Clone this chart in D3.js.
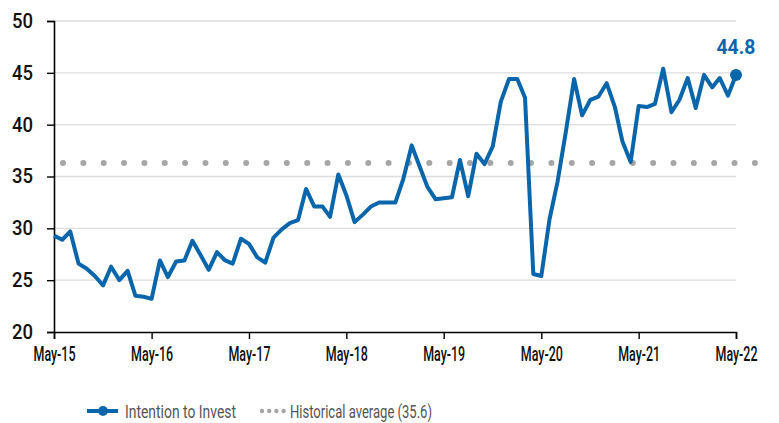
<!DOCTYPE html>
<html>
<head>
<meta charset="utf-8">
<script src="https://cdn.jsdelivr.net/npm/d3@7"></script>
<style>
  body { margin: 0; background: #fff; }
  svg text { font-family: Roboto, "Open Sans", sans-serif; }
</style>
</head>
<body>
<svg id="chart" width="779" height="423"></svg>
<script>
// monthly readings, May-15 .. May-22
var startMonth = new Date(2015, 4, 1);
var intention = [
  29.3, 28.9, 29.7, 26.6, 26.1, 25.4, 24.5, 26.3, 25.0, 25.9, 23.5, 23.4,
  23.2, 26.9, 25.3, 26.8, 26.9, 28.8, 27.4, 26.0, 27.7, 26.9, 26.6, 29.0,
  28.5, 27.2, 26.7, 29.1, 29.9, 30.5, 30.8, 33.8, 32.1, 32.1, 31.1, 35.2,
  33.2, 30.6, 31.3, 32.1, 32.5, 32.5, 32.5, 34.8, 38.0, 35.9, 34.0, 32.8,
  32.9, 33.0, 36.6, 33.1, 37.2, 36.2, 37.9, 42.2, 44.4, 44.4, 42.6, 25.6,
  25.4, 30.9, 34.5, 39.3, 44.4, 40.9, 42.4, 42.7, 44.0, 41.7, 38.4, 36.4,
  41.8, 41.7, 42.0, 45.4, 41.2, 42.4, 44.5, 41.6, 44.8, 43.6, 44.5, 42.8,
  44.8
];
var historicalLevel = 36.3;   // where the dotted line sits in the picture
var historicalLabel = "Historical average (35.6)";
var yTicks = [20, 25, 30, 35, 40, 45, 50];
var xTickLabels = ["May-15", "May-16", "May-17", "May-18", "May-19", "May-20", "May-21", "May-22"];

var blue = "#0a66ab";

// squeeze text to the narrow width of the original condensed face
function squeeze(sel, w) {
    sel.attr("textLength", w).attr("lengthAdjust", "spacingAndGlyphs");
}

var svg = d3.select("#chart"),
    margin = {top: 21, right: 43, bottom: 91, left: 54},
    width = +svg.attr("width") - margin.left - margin.right,
    height = +svg.attr("height") - margin.top - margin.bottom,
    g = svg.append("g").attr("transform", "translate(" + margin.left + "," + margin.top + ")");

var data = intention.map(function(v, i) {
    return {date: d3.timeMonth.offset(startMonth, i), value: v};
});

var x = d3.scaleTime()
    .domain(d3.extent(data, function(d) { return d.date; }))
    .range([0, width]);

var y = d3.scaleLinear()
    .domain([20, 50])
    .range([height, 0]);

// gridlines
g.append("g")
    .selectAll("line")
    .data(yTicks.slice(1))
    .enter().append("line")
    .attr("x1", 0)
    .attr("x2", width)
    .attr("y1", function(d) { return y(d); })
    .attr("y2", function(d) { return y(d); })
    .attr("stroke", "#dcdcdc")
    .attr("stroke-width", 1.3);

// historical average, dotted
g.append("line")
    .attr("x1", 9)
    .attr("x2", width + 20)
    .attr("y1", y(historicalLevel))
    .attr("y2", y(historicalLevel))
    .attr("stroke", "#a6a6a6")
    .attr("stroke-width", 6)
    .attr("stroke-linecap", "round")
    .attr("stroke-dasharray", "0 20.35");

// axes
var yAxis = g.append("g")
    .call(d3.axisLeft(y).tickValues(yTicks).tickSize(7).tickPadding(14));
yAxis.select(".domain").attr("stroke", "#000").attr("stroke-width", 1.6);
yAxis.selectAll(".tick line").attr("stroke", "#000").attr("stroke-width", 1.4);
yAxis.selectAll(".tick text").attr("fill", "#111")
    .style("font-size", "20px").style("font-weight", 500).call(squeeze, 21);

var xTickDates = xTickLabels.map(function(d, i) { return d3.timeYear.offset(startMonth, i); });
var xAxis = g.append("g")
    .attr("transform", "translate(0," + height + ")")
    .call(d3.axisBottom(x).tickValues(xTickDates).tickSizeOuter(0).tickSize(7).tickPadding(8)
        .tickFormat(function(d, i) { return xTickLabels[i]; }));
xAxis.select(".domain").attr("stroke", "#000").attr("stroke-width", 1.6);
xAxis.selectAll(".tick line").attr("stroke", "#000").attr("stroke-width", 1.4);
xAxis.selectAll(".tick text").attr("fill", "#111")
    .style("font-size", "20px").style("font-weight", 500).call(squeeze, 42);

// the series
var line = d3.line()
    .x(function(d) { return x(d.date); })
    .y(function(d) { return y(d.value); });

g.append("path")
    .datum(data)
    .attr("fill", "none")
    .attr("stroke", blue)
    .attr("stroke-width", 4)
    .attr("stroke-linejoin", "round")
    .attr("d", line);

var last = data[data.length - 1];
g.append("circle")
    .attr("cx", x(last.date))
    .attr("cy", y(last.value))
    .attr("r", 6)
    .attr("fill", blue);

g.append("text")
    .attr("x", x(last.date))
    .attr("y", y(last.value) - 21)
    .attr("text-anchor", "middle")
    .attr("fill", blue)
    .style("font-size", "21px")
    .style("font-weight", "bold")
    .text(last.value.toFixed(1))
    .call(squeeze, 39);

// legend
var legend = svg.append("g").attr("transform", "translate(0,411)");
legend.append("line")
    .attr("x1", 87).attr("x2", 118)
    .attr("stroke", blue).attr("stroke-width", 4);
legend.append("circle")
    .attr("cx", 103).attr("r", 5).attr("fill", blue);
legend.append("text")
    .attr("x", 125).attr("y", 6.5)
    .attr("fill", "#555")
    .style("font-size", "19px")
    .text("Intention to Invest")
    .call(squeeze, 111);
legend.selectAll(".dot")
    .data([0, 1, 2, 3])
    .enter().append("circle")
    .attr("cx", function(d) { return 262 + d * 7.2; })
    .attr("r", 2.2)
    .attr("fill", "#a6a6a6");
legend.append("text")
    .attr("x", 290).attr("y", 6.5)
    .attr("fill", "#555")
    .style("font-size", "19px")
    .text(historicalLabel)
    .call(squeeze, 142);
</script>
</body>
</html>
